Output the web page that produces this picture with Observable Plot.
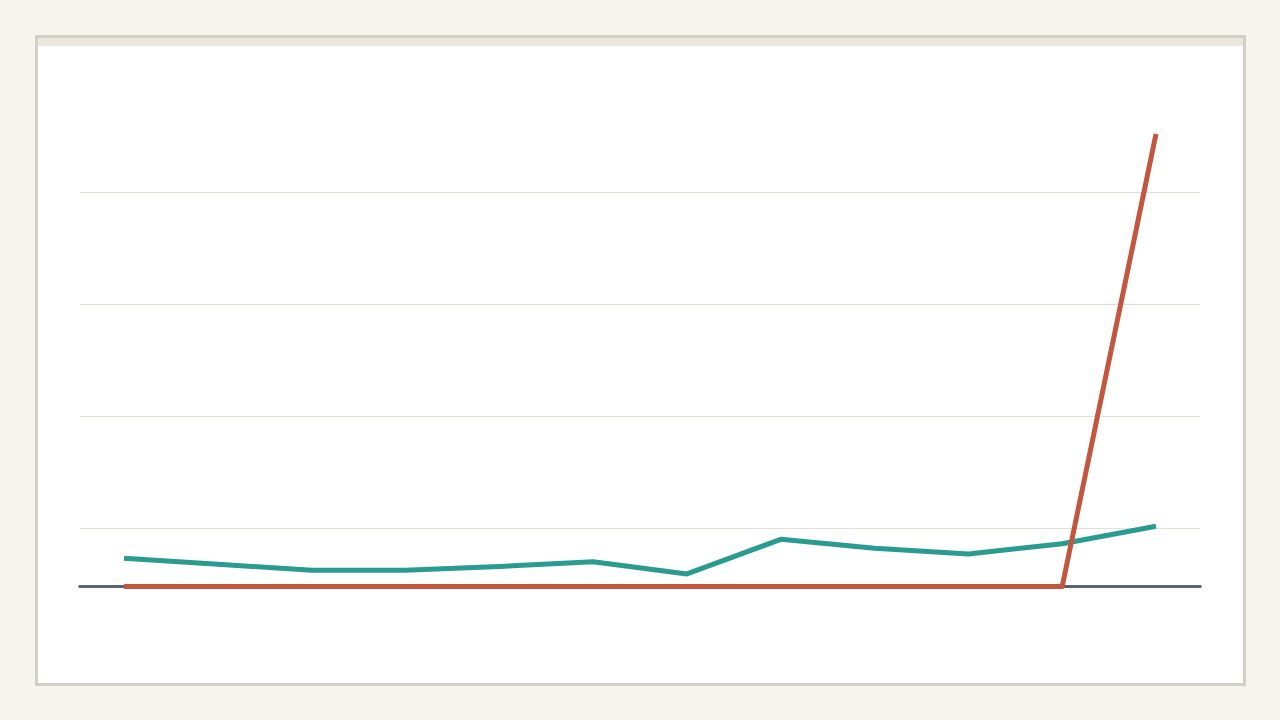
<!DOCTYPE html>
<html>
<head>
<meta charset="utf-8">
<script src="https://cdn.jsdelivr.net/npm/d3@7"></script>
<script src="https://cdn.jsdelivr.net/npm/@observablehq/plot@0.6"></script>
<style>
  html, body { margin: 0; padding: 0; background: #f5f4ef; width: 1280px; height: 720px; overflow: hidden; font-family: "Noto Sans", sans-serif; }
  #card { position: absolute; left: 35px; top: 35px; width: 1211px; height: 651px; box-sizing: border-box;
          border: 3px solid #d4cfc4; background: #ffffff; }
  #band { height: 8px; background: #ebe7de; }
  #chart svg { display: block; background: transparent; }
</style>
</head>
<body>
<div id="card"><div id="band"></div><div id="chart"></div></div>
<script>
// Periods (12 evenly spaced points)
const periods = [0, 1, 2, 3, 4, 5, 6, 7, 8, 9, 10, 11];
// Series values (arbitrary units)
const tealValues = [25.2, 19.8, 14.5, 14.5, 17.9, 22.1, 11.2, 42.1, 34.1, 29.0, 38.2, 53.8];
const redValues  = [0, 0, 0, 0, 0, 0, 0, 0, 0, 0, 0, 404];
// Gridline positions
const gridTicks = [51.8, 151.8, 251.8, 351.8];

const teal = periods.map((p, i) => ({x: p, y: tealValues[i]}));
const red = periods.map((p, i) => ({x: p, y: redValues[i]}));

const chart = Plot.plot({
  width: 1205,
  height: 637,
  marginLeft: 42,
  marginRight: 43,
  marginTop: 0,
  marginBottom: 0,
  x: {domain: [0, 11], range: [85.5, 1117.5], axis: null},
  y: {domain: [0, 420], range: [540, 69.6], axis: null},
  marks: [
    Plot.gridY(gridTicks, {stroke: "#e3e1d5", strokeOpacity: 1, strokeWidth: 1}),
    Plot.ruleY([0], {stroke: "#586374", strokeWidth: 3, strokeLinecap: "square"}),
    Plot.line(teal, {x: "x", y: "y", stroke: "#2a9b91", strokeWidth: 5, strokeLinecap: "butt", strokeLinejoin: "round"}),
    Plot.line(red, {x: "x", y: "y", stroke: "#c2563e", strokeWidth: 5, strokeLinecap: "butt", strokeLinejoin: "round"})
  ]
});
document.getElementById("chart").appendChild(chart);
</script>
</body>
</html>
